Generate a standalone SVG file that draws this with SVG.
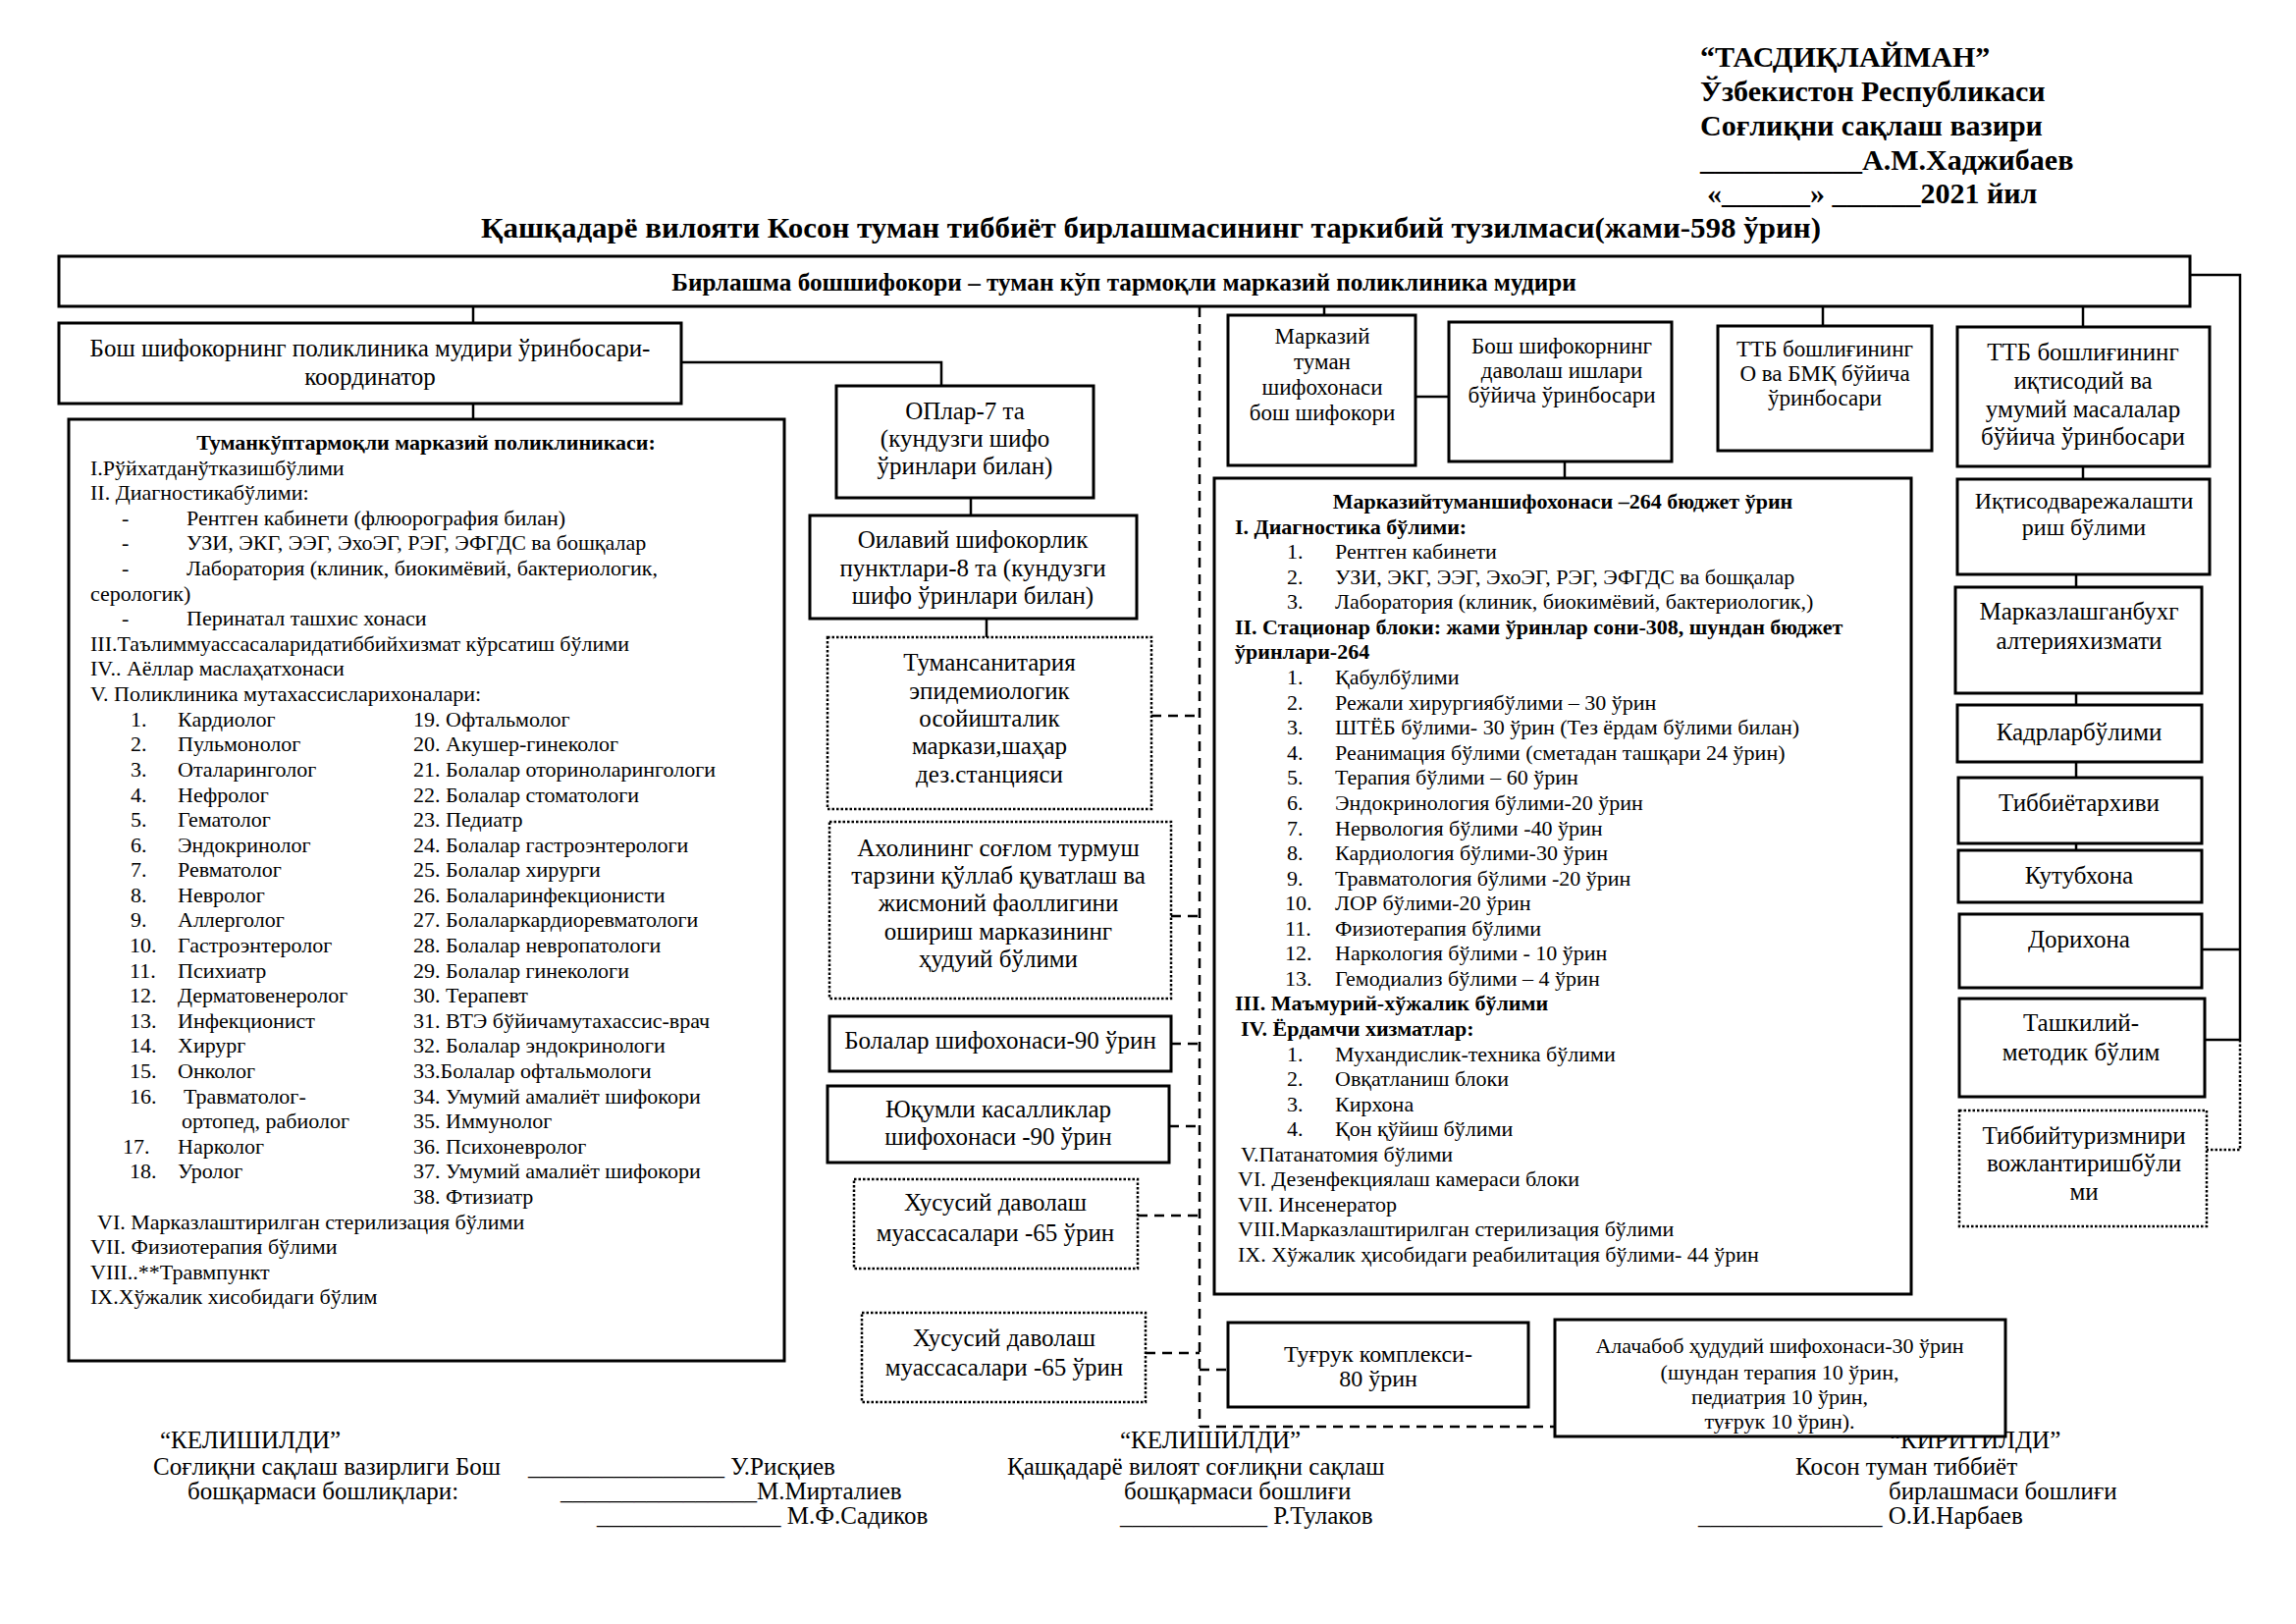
<svg xmlns="http://www.w3.org/2000/svg" width="2339" height="1654" viewBox="0 0 2339 1654" xml:space="preserve">
<style>
text{font-family:"Liberation Serif","Times New Roman",serif;fill:#000}
.hb{font-size:30px;font-weight:bold}
.tb{font-size:25.2px;font-weight:bold}
.f26{font-size:25px}
.f25{font-size:25px}
.f24{font-size:24px}
.f23{font-size:23px}
.f22{font-size:22px}
.bd{font-weight:bold}
.m{text-anchor:middle}
.b{fill:#fff;stroke:#000;stroke-width:3}
.d{fill:#fff;stroke:#000;stroke-width:2.5;stroke-dasharray:2.5 2}
.c{fill:none;stroke:#000;stroke-width:2.5}
.dc{fill:none;stroke:#000;stroke-width:2.5;stroke-dasharray:10 7}
.dt{fill:none;stroke:#000;stroke-width:2.5;stroke-dasharray:2.5 2}
</style>
<rect width="2339" height="1654" fill="#fff"/>
<g id="header">
<text class="hb" x="1732" y="68">“ТАСДИҚЛАЙМАН”</text>
<text class="hb" x="1732" y="103">Ўзбекистон Республикаси</text>
<text class="hb" x="1732" y="138">Соғлиқни сақлаш вазири</text>
<text class="hb" x="1732" y="173">___________А.М.Хаджибаев</text>
<text class="hb" x="1739" y="207">«______» ______2021 йил</text>
<text class="hb" x="490" y="242" textLength="1365" lengthAdjust="spacingAndGlyphs">Қашқадарё вилояти Косон туман тиббиёт бирлашмасининг таркибий  тузилмаси(жами-598 ўрин)</text>
</g>
<g id="signatures">
<text class="f25" x="163" y="1475">“КЕЛИШИЛДИ”</text>
<text class="f25" x="156" y="1502">Соғлиқни сақлаш вазирлиги Бош</text>
<text class="f25" x="538" y="1502">________________ У.Рисқиев</text>
<text class="f25" x="191" y="1527">бошқармаси бошлиқлари:</text>
<text class="f25" x="571" y="1527">________________М.Мирталиев</text>
<text class="f25" x="608" y="1552">_______________ М.Ф.Садиков</text>
<text class="f25" x="1141" y="1475">“КЕЛИШИЛДИ”</text>
<text class="f25" x="1026" y="1502">Қашқадарё  вилоят соғлиқни сақлаш</text>
<text class="f25" x="1145" y="1527">бошқармаси бошлиғи</text>
<text class="f25" x="1141" y="1552">____________ Р.Тулаков</text>
<text class="f25" x="1925" y="1475">“КИРИТИЛДИ”</text>
<text class="f25" x="1829" y="1502">Косон туман тиббиёт</text>
<text class="f25" x="1924" y="1527">бирлашмаси бошлиғи</text>
<text class="f25" x="1730" y="1552">_______________ О.И.Нарбаев</text>
</g>
<g id="connectors">
<path class="c" d="M482 312V329"/>
<path class="c" d="M482 411V427"/>
<path class="c" d="M694 369H959V393"/>
<path class="c" d="M989 507V525"/>
<path class="c" d="M1005 630V649"/>
<path class="dc" d="M1222 313V1453"/>
<path class="dc" d="M1173 729H1222"/>
<path class="dc" d="M1193 933H1222"/>
<path class="dc" d="M1193 1063H1222"/>
<path class="dc" d="M1191 1147H1222"/>
<path class="dc" d="M1159 1238H1222"/>
<path class="dc" d="M1167 1378H1222"/>
<path class="dc" d="M1222 1395H1251"/>
<path class="dc" d="M1222 1453H1584"/>
<path class="c" d="M1349 312V321"/>
<path class="c" d="M1442 404H1476"/>
<path class="c" d="M1594 470V487"/>
<path class="c" d="M1857 312V332"/>
<path class="c" d="M2122 312V333"/>
<path class="c" d="M2122 475V488"/>
<path class="c" d="M2115 585V598"/>
<path class="c" d="M2115 706V718"/>
<path class="c" d="M2115 776V792"/>
<path class="c" d="M2115 859V866"/>
<path class="c" d="M2231 280H2282V1059"/>
<path class="c" d="M2243 967H2282"/>
<path class="c" d="M2246 1059H2282"/>
<path class="dt" d="M2282 1059V1171H2248"/>
</g>
<g id="n-top">
<rect class="b" x="60" y="261" width="2171" height="51"/>
<text class="tb m" x="1145" y="296">Бирлашма бошшифокори – туман кўп тармоқли марказий поликлиника мудири</text>
</g>
<g id="n-deputy">
<rect class="b" x="60" y="329" width="634" height="82"/>
<text class="f26 m" x="377" y="363">Бош шифокорнинг поликлиника мудири ўринбосари-</text>
<text class="f26 m" x="377" y="392">координатор</text>
</g>
<g id="n-poly">
<rect class="b" x="70" y="427" width="729" height="959"/>
<g class="f22">
<text class="bd m" x="434" y="458">Туманкўптармоқли марказий поликлиникаси:</text>
<text x="92" y="484">I.Рўйхатданўтказишбўлими</text>
<text x="92" y="509">II. Диагностикабўлими:</text>
<text x="124" y="535">-</text><text x="190" y="535">Рентген кабинети (флюорография билан)</text>
<text x="124" y="560">-</text><text x="190" y="560">УЗИ, ЭКГ,  ЭЭГ, ЭхоЭГ, РЭГ, ЭФГДС ва бошқалар</text>
<text x="124" y="586">-</text><text x="190" y="586">Лаборатория (клиник, биокимёвий, бактериологик,</text>
<text x="92" y="612">серологик)</text>
<text x="124" y="637">-</text><text x="190" y="637">Перинатал ташхис хонаси</text>
<text x="92" y="663">III.Таълиммуассасаларидатиббийхизмат кўрсатиш бўлими</text>
<text x="92" y="688">IV.. Аёллар маслаҳатхонаси</text>
<text x="92" y="714">V. Поликлиника мутахассисларихоналари:</text>
<text x="133" y="740">1.</text><text x="181" y="740">Кардиолог</text>
<text x="133" y="765">2.</text><text x="181" y="765">Пульмонолог</text>
<text x="133" y="791">3.</text><text x="181" y="791">Оталаринголог</text>
<text x="133" y="817">4.</text><text x="181" y="817">Нефролог</text>
<text x="133" y="842">5.</text><text x="181" y="842">Гематолог</text>
<text x="133" y="868">6.</text><text x="181" y="868">Эндокринолог</text>
<text x="133" y="893">7.</text><text x="181" y="893">Ревматолог</text>
<text x="133" y="919">8.</text><text x="181" y="919">Невролог</text>
<text x="133" y="944">9.</text><text x="181" y="944">Аллерголог</text>
<text x="132" y="970">10.</text><text x="181" y="970">Гастроэнтеролог</text>
<text x="132" y="996">11.</text><text x="181" y="996">Психиатр</text>
<text x="132" y="1021">12.</text><text x="181" y="1021">Дерматовенеролог</text>
<text x="132" y="1047">13.</text><text x="181" y="1047">Инфекционист</text>
<text x="132" y="1072">14.</text><text x="181" y="1072">Хирург</text>
<text x="132" y="1098">15.</text><text x="181" y="1098">Онколог</text>
<text x="132" y="1124">16.</text><text x="187" y="1124">Травматолог-</text>
<text x="185" y="1149">ортопед, рабиолог</text>
<text x="125" y="1175">17.</text><text x="181" y="1175">Нарколог</text>
<text x="132" y="1200">18.</text><text x="181" y="1200">Уролог</text>
<text x="421" y="740">19. Офтальмолог</text>
<text x="421" y="765">20. Акушер-гинеколог</text>
<text x="421" y="791">21. Болалар оториноларингологи</text>
<text x="421" y="817">22. Болалар стоматологи</text>
<text x="421" y="842">23. Педиатр</text>
<text x="421" y="868">24. Болалар гастроэнтерологи</text>
<text x="421" y="893">25. Болалар хирурги</text>
<text x="421" y="919">26. Болаларинфекционисти</text>
<text x="421" y="944">27. Болаларкардиоревматологи</text>
<text x="421" y="970">28. Болалар невропатологи</text>
<text x="421" y="996">29. Болалар гинекологи</text>
<text x="421" y="1021">30. Терапевт</text>
<text x="421" y="1047">31. ВТЭ бўйичамутахассис-врач</text>
<text x="421" y="1072">32.  Болалар эндокринологи</text>
<text x="421" y="1098">33.Болалар офтальмологи</text>
<text x="421" y="1124">34. Умумий амалиёт шифокори</text>
<text x="421" y="1149">35. Иммунолог</text>
<text x="421" y="1175">36. Психоневролог</text>
<text x="421" y="1200">37. Умумий амалиёт шифокори</text>
<text x="421" y="1226">38. Фтизиатр</text>
<text x="99" y="1252">VI. Марказлаштирилган стерилизация бўлими</text>
<text x="92" y="1277">VII. Физиотерапия бўлими</text>
<text x="92" y="1303">VIII..**Травмпункт</text>
<text x="92" y="1328">IX.Хўжалик хисобидаги бўлим</text>
</g>
</g>
<g id="n-op">
<rect class="b" x="852" y="393" width="262" height="114"/>
<text class="f25 m" x="983" y="427">ОПлар-7 та</text>
<text class="f25 m" x="983" y="455">(кундузги шифо</text>
<text class="f25 m" x="983" y="483">ўринлари билан)</text>
</g>
<g id="n-family">
<rect class="b" x="825" y="525" width="333" height="105"/>
<text class="f25 m" x="991" y="558">Оилавий шифокорлик</text>
<text class="f25 m" x="991" y="587">пунктлари-8 та (кундузги</text>
<text class="f25 m" x="991" y="615">шифо ўринлари билан)</text>
</g>
<g id="n-sanitary">
<rect class="d" x="843" y="649" width="330" height="175"/>
<text class="f25 m" x="1008" y="683">Тумансанитария</text>
<text class="f25 m" x="1008" y="712">эпидемиологик</text>
<text class="f25 m" x="1008" y="740">осойишталик</text>
<text class="f25 m" x="1008" y="768">маркази,шаҳар</text>
<text class="f25 m" x="1008" y="797">дез.станцияси</text>
</g>
<g id="n-health">
<rect class="d" x="845" y="837" width="348" height="180"/>
<text class="f25 m" x="1017" y="872">Ахолининг соғлом турмуш</text>
<text class="f25 m" x="1017" y="900">тарзини қўллаб қуватлаш ва</text>
<text class="f25 m" x="1017" y="928">жисмоний фаоллигини</text>
<text class="f25 m" x="1017" y="957">ошириш марказининг</text>
<text class="f25 m" x="1017" y="985">ҳудуий бўлими</text>
</g>
<g id="n-children">
<rect class="b" x="845" y="1035" width="348" height="56"/>
<text class="f25 m" x="1019" y="1068">Болалар шифохонаси-90 ўрин</text>
</g>
<g id="n-infect">
<rect class="b" x="843" y="1106" width="348" height="78"/>
<text class="f25 m" x="1017" y="1138">Юқумли касалликлар</text>
<text class="f25 m" x="1017" y="1166">шифохонаси -90 ўрин</text>
</g>
<g id="n-private1">
<rect class="d" x="870" y="1201" width="289" height="91"/>
<text class="f25 m" x="1014" y="1233">Хусусий даволаш</text>
<text class="f25 m" x="1014" y="1264">муассасалари -65 ўрин</text>
</g>
<g id="n-private2">
<rect class="d" x="878" y="1337" width="289" height="91"/>
<text class="f25 m" x="1023" y="1371">Хусусий даволаш</text>
<text class="f25 m" x="1023" y="1401">муассасалари -65 ўрин</text>
</g>
<g id="n-maternity">
<rect class="b" x="1251" y="1347" width="306" height="86"/>
<text class="f24 m" x="1404" y="1387">Туғрук комплекси-</text>
<text class="f24 m" x="1404" y="1412">80 ўрин</text>
</g>
<g id="n-alachabob">
<rect class="b" x="1584" y="1344" width="459" height="119"/>
<text class="f22 m" x="1813" y="1378">Алачабоб ҳудудий шифохонаси-30 ўрин</text>
<text class="f22 m" x="1813" y="1405">(шундан терапия 10 ўрин,</text>
<text class="f22 m" x="1813" y="1430">педиатрия 10 ўрин,</text>
<text class="f22 m" x="1813" y="1455">туғрук 10 ўрин).</text>
</g>
<g id="n-central-chief">
<rect class="b" x="1251" y="321" width="191" height="153"/>
<text class="f23 m" x="1347" y="350">Марказий</text>
<text class="f23 m" x="1347" y="376">туман</text>
<text class="f23 m" x="1347" y="402">шифохонаси</text>
<text class="f23 m" x="1347" y="428">бош шифокори</text>
</g>
<g id="n-treatment-deputy">
<rect class="b" x="1476" y="328" width="227" height="142"/>
<text class="f23 m" x="1591" y="360">Бош  шифокорнинг</text>
<text class="f23 m" x="1591" y="385">даволаш ишлари</text>
<text class="f23 m" x="1591" y="410">бўйича ўринбосари</text>
</g>
<g id="n-ttb-bmk">
<rect class="b" x="1750" y="332" width="218" height="127"/>
<text class="f23 m" x="1859" y="363">ТТБ бошлиғининг</text>
<text class="f23 m" x="1859" y="388">О ва БМҚ  бўйича</text>
<text class="f23 m" x="1859" y="413">ўринбосари</text>
</g>
<g id="n-ttb-econ">
<rect class="b" x="1994" y="333" width="257" height="142"/>
<text class="f25 m" x="2122" y="367">ТТБ бошлиғининг</text>
<text class="f25 m" x="2122" y="396">иқтисодий ва</text>
<text class="f25 m" x="2122" y="425">умумий масалалар</text>
<text class="f25 m" x="2122" y="453">бўйича ўринбосари</text>
</g>
<g id="n-hospital">
<rect class="b" x="1237" y="487" width="710" height="831"/>
<g class="f22">
<text class="bd m" x="1592" y="518">Марказийтуманшифохонаси –264 бюджет ўрин</text>
<text class="bd" x="1258" y="544">I. Диагностика бўлими:</text>
<text x="1311" y="569">1.</text><text x="1360" y="569">Рентген кабинети</text>
<text x="1311" y="595">2.</text><text x="1360" y="595">УЗИ, ЭКГ,  ЭЭГ, ЭхоЭГ, РЭГ, ЭФГДС ва бошқалар</text>
<text x="1311" y="620">3.</text><text x="1360" y="620">Лаборатория (клиник, биокимёвий, бактериологик,)</text>
<text class="bd" x="1258" y="646">II. Стационар блоки: жами ўринлар сони-308, шундан бюджет</text>
<text class="bd" x="1258" y="671">ўринлари-264</text>
<text x="1311" y="697">1.</text><text x="1360" y="697">Қабулбўлими</text>
<text x="1311" y="723">2.</text><text x="1360" y="723">Режали хирургиябўлими – 30 ўрин</text>
<text x="1311" y="748">3.</text><text x="1360" y="748">ШТЁБ бўлими- 30 ўрин (Тез ёрдам бўлими билан)</text>
<text x="1311" y="774">4.</text><text x="1360" y="774">Реанимация бўлими (сметадан ташқари 24 ўрин)</text>
<text x="1311" y="799">5.</text><text x="1360" y="799">Терапия бўлими – 60 ўрин</text>
<text x="1311" y="825">6.</text><text x="1360" y="825">Эндокринология бўлими-20 ўрин</text>
<text x="1311" y="851">7.</text><text x="1360" y="851">Нервология бўлими -40 ўрин</text>
<text x="1311" y="876">8.</text><text x="1360" y="876">Кардиология бўлими-30 ўрин</text>
<text x="1311" y="902">9.</text><text x="1360" y="902">Травматология бўлими -20 ўрин</text>
<text x="1309" y="927">10.</text><text x="1360" y="927">ЛОР бўлими-20 ўрин</text>
<text x="1309" y="953">11.</text><text x="1360" y="953">Физиотерапия бўлими</text>
<text x="1309" y="978">12.</text><text x="1360" y="978">Наркология бўлими - 10 ўрин</text>
<text x="1309" y="1004">13.</text><text x="1360" y="1004">Гемодиализ бўлими – 4 ўрин</text>
<text class="bd" x="1258" y="1029">III. Маъмурий-хўжалик бўлими</text>
<text class="bd" x="1264" y="1055">IV.  Ёрдамчи хизматлар:</text>
<text x="1311" y="1081">1.</text><text x="1360" y="1081">Мухандислик-техника бўлими</text>
<text x="1311" y="1106">2.</text><text x="1360" y="1106">Овқатланиш блоки</text>
<text x="1311" y="1132">3.</text><text x="1360" y="1132">Кирхона</text>
<text x="1311" y="1157">4.</text><text x="1360" y="1157">Қон қўйиш бўлими</text>
<text x="1264" y="1183">V.Патанатомия бўлими</text>
<text x="1261" y="1208">VI. Дезенфекциялаш камераси блоки</text>
<text x="1261" y="1234">VII. Инсенератор</text>
<text x="1261" y="1259">VIII.Марказлаштирилган стерилизация  бўлими</text>
<text x="1261" y="1285">IX. Хўжалик ҳисобидаги реабилитация бўлими- 44 ўрин</text>
</g>
</g>
<g id="n-planning">
<rect class="b" x="1994" y="488" width="257" height="97"/>
<text class="f24 m" x="2123" y="518">Иқтисодварежалашти</text>
<text class="f24 m" x="2123" y="545">риш бўлими</text>
</g>
<g id="n-accounting">
<rect class="b" x="1992" y="598" width="251" height="108"/>
<text class="f25 m" x="2118" y="631">Марказлашганбухг</text>
<text class="f25 m" x="2118" y="661">алтерияхизмати</text>
</g>
<g id="n-hr">
<rect class="b" x="1994" y="718" width="249" height="58"/>
<text class="f25 m" x="2118" y="754">Кадрларбўлими</text>
</g>
<g id="n-archive">
<rect class="b" x="1995" y="792" width="248" height="67"/>
<text class="f25 m" x="2118" y="826">Тиббиётархиви</text>
</g>
<g id="n-library">
<rect class="b" x="1995" y="866" width="248" height="53"/>
<text class="f25 m" x="2118" y="900">Кутубхона</text>
</g>
<g id="n-pharmacy">
<rect class="b" x="1996" y="931" width="247" height="75"/>
<text class="f25 m" x="2118" y="965">Дорихона</text>
</g>
<g id="n-methodic">
<rect class="b" x="1996" y="1017" width="250" height="100"/>
<text class="f25 m" x="2120" y="1050">Ташкилий-</text>
<text class="f25 m" x="2120" y="1080">методик бўлим</text>
</g>
<g id="n-tourism">
<rect class="d" x="1996" y="1131" width="252" height="118"/>
<text class="f25 m" x="2123" y="1165">Тиббийтуризмнири</text>
<text class="f25 m" x="2123" y="1193">вожлантиришбўли</text>
<text class="f25 m" x="2123" y="1222">ми</text>
</g>
</svg>
